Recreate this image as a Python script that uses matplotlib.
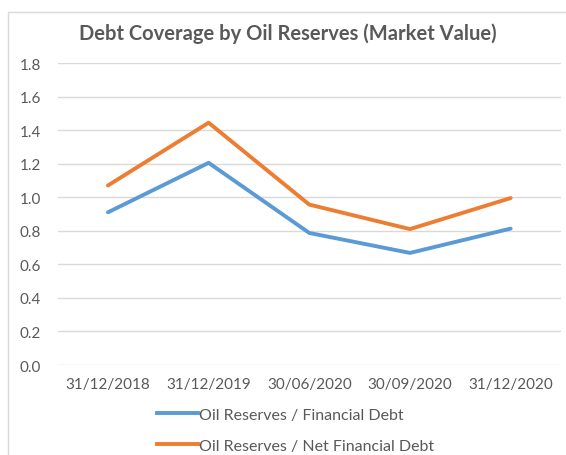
import matplotlib.pyplot as plt
from matplotlib.patches import Rectangle
from matplotlib.lines import Line2D

dates = ["31/12/2018", "31/12/2019", "30/06/2020", "30/09/2020", "31/12/2020"]
financial_debt = [0.91, 1.205, 0.787, 0.668, 0.813]
net_financial_debt = [1.07, 1.444, 0.956, 0.81, 0.995]

blue = "#5B9BD5"
orange = "#ED7D31"
text_gray = "#595959"
grid_gray = "#D9D9D9"

plt.rcParams['font.family'] = ['Lato', 'DejaVu Sans']

W, H = 566, 456
fig = plt.figure(figsize=(W / 100, H / 100), dpi=100)

# chart border (cropped on right and bottom)
fig.patches.append(Rectangle((8 / W, -0.1), 1.2, 1 - 13 / H + 0.1,
                             transform=fig.transFigure, fill=False,
                             edgecolor=grid_gray, linewidth=1))

ax = fig.add_axes([57.6 / W, 1 - 366 / H, (561 - 57.6) / W, (366 - 64) / H])
x = range(len(dates))
ax.plot(x, financial_debt, color=blue, linewidth=2.8, solid_capstyle='round',
        label="Oil Reserves / Financial Debt")
ax.plot(x, net_financial_debt, color=orange, linewidth=2.8, solid_capstyle='round',
        label="Oil Reserves / Net Financial Debt")

ax.set_xlim(-0.5, len(dates) - 0.5)
ax.set_ylim(0, 1.8)
ax.set_yticks([i * 0.2 for i in range(10)])
ax.set_yticklabels([f"{i * 0.2:.1f}" for i in range(10)])
ax.set_xticks(list(x))
ax.set_xticklabels(dates)
ax.grid(axis='y', color=grid_gray, linewidth=1)
ax.set_axisbelow(True)
for s in ax.spines.values():
    s.set_visible(False)
ax.tick_params(length=0, colors=text_gray, labelsize=11)
ax.tick_params(axis='y', pad=12)
ax.tick_params(axis='x', pad=9)

fig.text(288 / W, 1 - 34 / H, "Debt Coverage by Oil Reserves (Market Value)",
         ha='center', va='center', fontsize=14.5, color=text_gray, fontweight='bold')

handles = [Line2D([], [], color=blue, linewidth=2.8),
           Line2D([], [], color=orange, linewidth=2.8)]
fig.legend(handles, ["Oil Reserves / Financial Debt", "Oil Reserves / Net Financial Debt"],
           loc='upper left', bbox_to_anchor=(147 / W, 1 - 399 / H), frameon=False,
           fontsize=11.5, labelcolor=text_gray, handlelength=2.6, handletextpad=0.05,
           labelspacing=1.05, borderaxespad=0.2)

fig.savefig("out.png", dpi=100)
